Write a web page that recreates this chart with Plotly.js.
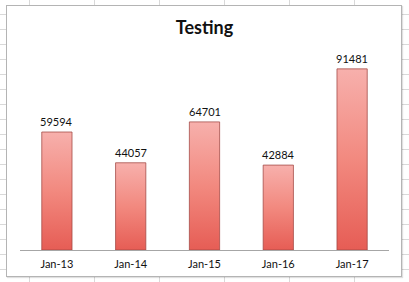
<!DOCTYPE html>
<html>
<head>
<meta charset="utf-8">
<script src="https://cdn.plot.ly/plotly-3.0.1.min.js"></script>
<style>
  html, body { margin: 0; padding: 0; width: 409px; height: 282px; overflow: hidden; }
  body {
    position: relative;
    background-color: #ffffff;
    background-image:
      repeating-linear-gradient(to right, transparent 0px, transparent 29px, #d9d9d9 29px, #d9d9d9 30px, transparent 30px, transparent 65px),
      repeating-linear-gradient(to bottom, transparent 0px, transparent 14px, #d9d9d9 14px, #d9d9d9 15px);
    background-position: 0 0, 0 0;
  }
  #box {
    position: absolute; left: 6px; top: 5px; width: 394px; height: 270px;
    background: #ffffff; border: 1px solid #b4b4b4;
    box-shadow: 1px 1px 1px rgba(0,0,0,0.12);
  }
  #chart { position: absolute; left: 0; top: 0; width: 409px; height: 282px; }
</style>
</head>
<body>
<div id="box"></div>
<div id="chart"></div>
<script>
const categories = ["Jan-13", "Jan-14", "Jan-15", "Jan-16", "Jan-17"];
const values = [59594, 44057, 64701, 42884, 91481];
const labels = ["59594", "44057", "64701", "42884", "91481"];
const chartTitle = "Testing";

const labelFont = { family: "Lato, 'Open Sans', sans-serif", size: 11, color: "#111111" };

const trace = {
  type: "bar",
  x: categories,
  y: values,
  marker: { color: "#f08a82", line: { color: "rgba(160,70,65,0.75)", width: 1 } },
  hoverinfo: "none"
};

const annotations = categories.map(function (c, i) {
  return {
    x: c, y: values[i], xref: "x", yref: "y",
    text: labels[i], showarrow: false,
    xanchor: "center", yanchor: "bottom", yshift: 2,
    font: labelFont
  };
});

const layout = {
  width: 409, height: 282,
  margin: { l: 20, r: 20, t: 52, b: 32, pad: 0 },
  paper_bgcolor: "rgba(0,0,0,0)",
  plot_bgcolor: "rgba(0,0,0,0)",
  showlegend: false,
  bargap: 0.59,
  annotations: annotations,
  title: {
    text: "<b>" + chartTitle + "</b>",
    font: { family: "Lato, 'Open Sans', sans-serif", size: 18, color: "#111111" },
    x: 0.5, xanchor: "center",
    y: 1 - 28 / 282, yref: "container", yanchor: "middle"
  },
  xaxis: {
    type: "category",
    showline: true, linecolor: "#a6a6a6", linewidth: 1,
    showgrid: false, zeroline: false, ticks: "",
    ticklabelstandoff: 4,
    tickfont: labelFont,
    fixedrange: true
  },
  yaxis: {
    range: [0, 100000],
    visible: false, showgrid: false, zeroline: false,
    fixedrange: true
  }
};

Plotly.newPlot("chart", [trace], layout, { staticPlot: true, displayModeBar: false }).then(function (gd) {
  const svg = gd.querySelector("svg.main-svg");
  const ns = "http://www.w3.org/2000/svg";
  let defs = svg.querySelector("defs");
  if (!defs) { defs = document.createElementNS(ns, "defs"); svg.insertBefore(defs, svg.firstChild); }
  const grad = document.createElementNS(ns, "linearGradient");
  grad.setAttribute("id", "barGrad");
  grad.setAttribute("x1", "0"); grad.setAttribute("y1", "0");
  grad.setAttribute("x2", "0"); grad.setAttribute("y2", "1");
  [["0", "#f7b0ac"], ["0.5", "#f2897f"], ["1", "#e65d55"]].forEach(function (s) {
    const st = document.createElementNS(ns, "stop");
    st.setAttribute("offset", s[0]);
    st.setAttribute("stop-color", s[1]);
    grad.appendChild(st);
  });
  defs.appendChild(grad);
  gd.querySelectorAll(".bars .point path").forEach(function (p) {
    p.style.fill = "url(#barGrad)";
  });
});
</script>
</body>
</html>
